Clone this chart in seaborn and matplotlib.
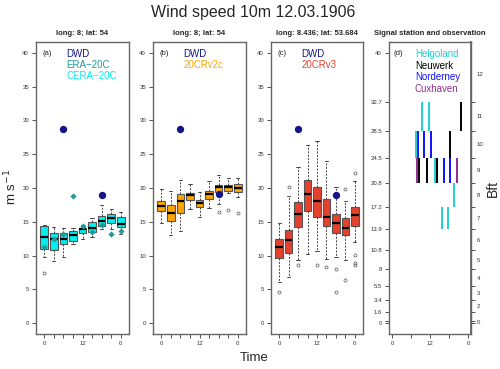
#!/usr/bin/env python3
"""Wind speed 10m 12.03.1906 - reanalysis ensembles vs. DWD and signal stations"""
import matplotlib
matplotlib.use("Agg")
import matplotlib.pyplot as plt
import seaborn as sns
import numpy as np

sns.set_theme(style="ticks")
plt.rcParams['font.family'] = ['Liberation Sans', 'DejaVu Sans']
plt.rcParams['axes.unicode_minus'] = True

# ---- data ----
hours = [0, 3, 6, 9, 12, 15, 18, 21, 24]
dwd_hours = [6, 18]

# panel a: CERA-20C ensemble + ERA-20C + DWD
cera_whislo = [9.8, 9.25, 9.8, 11.7, 12.4, 12.7, 13.9, 13.95, 13.2]
cera_q1 = [11.0, 10.9, 11.7, 12.1, 13.4, 13.5, 14.45, 14.8, 14.25]
cera_med = [12.8, 12.4, 12.4, 13.1, 13.95, 14.15, 15.1, 15.6, 14.65]
cera_q3 = [14.35, 13.3, 13.3, 13.6, 14.15, 15.0, 15.8, 16.2, 15.7]
cera_whishi = [14.5, 14.2, 14.1, 14.05, 14.5, 15.5, 17.5, 16.9, 16.5]
cera_fliers = [[7.4], [], [], [], [], [], [], [], []]
era20c = [11.3, 12.4, 13.2, 18.75, 14.4, 13.5, 14.5, 13.2, 13.65]
dwd_a = [28.8, 19.0]

# panel b: 20CRv2c
v2c_whislo = [14.9, 13.1, 13.65, 16.9, 15.7, 17.0, 17.65, 19.25, 18.65]
v2c_q1 = [16.6, 15.1, 16.3, 18.25, 17.2, 18.45, 19.35, 19.6, 19.45]
v2c_med = [17.4, 16.3, 18.05, 18.95, 17.8, 19.15, 20.1, 20.1, 20.0]
v2c_q3 = [18.05, 17.5, 19.15, 19.25, 18.25, 19.6, 20.4, 20.5, 20.6]
v2c_whishi = [19.8, 19.6, 21.2, 20.6, 19.35, 21.0, 21.9, 21.5, 21.5]
v2c_fliers = [[], [], [], [], [], [], [16.4], [16.7], [16.3]]
dwd_b = [28.8, 19.05]

# panel c: 20CRv3
v3_whislo = [6.1, 6.8, 9.35, 10.25, 10.7, 9.5, 9.85, 9.3, 12.0]
v3_q1 = [9.65, 10.45, 14.25, 16.6, 15.7, 14.45, 13.3, 13.0, 14.35]
v3_med = [11.2, 12.3, 16.1, 19.15, 18.05, 15.7, 14.85, 14.15, 16.0]
v3_q3 = [12.5, 13.85, 18.0, 21.2, 20.2, 18.35, 16.1, 15.6, 17.25]
v3_whishi = [14.85, 18.75, 23.05, 26.3, 26.9, 23.95, 20.2, 18.1, 21.0]
v3_fliers = [[4.6], [20.2], [8.65], [], [8.6], [8.3], [8.0, 4.6],
             [19.8, 6.4], [22.3, 10.1, 8.95, 8.6]]
dwd_c = [28.8, 19.0]

# panel d: Beaufort observations at signal stations
bft_edges = [0, 0.3, 1.6, 3.4, 5.5, 8.0, 10.8, 13.9, 17.2, 20.8, 24.5, 28.5, 32.7, 41.0]
bft_left_ticks = [0, 0.3, 1.6, 3.4, 5.5, 8, 10.8, 13.9, 17.2, 20.8, 24.5, 28.5, 32.7, 40]
bft_left_labels = ['0', '', '1.6', '3.4', '5.5', '8', '10.8', '13.9', '17.2',
                   '20.8', '24.5', '28.5', '32.7', '40']
bft_right_labels = ['0', '', '2', '3', '4', '5', '6', '7', '8', '9', '10', '11', '12']

helgoland_hours = [7.6, 9.6, 11.7, 13.6, 15.7, 17.8, 19.6]
helgoland_bft = [10, 11, 11, 9, 7, 7, 8]
neuwerk_hours = [8.5, 11.0, 14.2, 18.3, 21.8]
neuwerk_bft = [9, 9, 9, 10, 11]
norderney_hours = [8.2, 10.2, 12.3, 16.3, 18.4]
norderney_bft = [10, 10, 10, 9, 9]
cuxhaven_hours = [7.8, 20.4]
cuxhaven_bft = [9, 9]

# ---- colours ----
c_dwd = "#14148a"
c_era = "#1f9a96"
c_cera = "#00f0f0"
c_v2c = "#ffa500"
c_v3 = "#e5412f"
c_helg = "#22d0d0"
c_neu = "#000000"
c_nord = "#1010ff"
c_cux = "#8e2c8e"
frame_col = "#666666"
tick_col = "#333333"

fig = plt.figure(figsize=(5.0, 3.69), dpi=100)
bottom, height = 0.0949, 0.791
ax_a = fig.add_axes([0.072, bottom, 0.186, height])
ax_b = fig.add_axes([0.306, bottom, 0.186, height])
ax_c = fig.add_axes([0.542, bottom, 0.184, height])
ax_d = fig.add_axes([0.778, bottom, 0.164, height])


def style_frame(ax):
    for sp in ax.spines.values():
        sp.set_visible(True)
        sp.set_color(frame_col)
        sp.set_linewidth(1.0)
    ax.tick_params(axis='both', which='major', length=3, width=0.6, color=tick_col,
                   labelsize=4.3, labelcolor=tick_col, pad=2)
    ax.set_xlabel("")
    ax.set_ylabel("")


def draw_boxes(ax, whislo, q1, med, q3, whishi, fliers, face):
    stats = []
    for i in range(len(hours)):
        stats.append(dict(whislo=whislo[i], q1=q1[i], med=med[i], q3=q3[i],
                          whishi=whishi[i], fliers=fliers[i]))
    ax.bxp(stats, positions=hours, widths=2.4, capwidths=1.0, patch_artist=True,
           manage_ticks=False,
           boxprops=dict(facecolor=face, edgecolor="#555555", linewidth=0.8),
           medianprops=dict(color="black", linewidth=1.6),
           whiskerprops=dict(color="#444444", linewidth=0.7, linestyle=(0, (2, 1.5))),
           capprops=dict(color="#444444", linewidth=0.7),
           flierprops=dict(marker='o', markersize=2.2, markerfacecolor='none',
                           markeredgecolor='#555555', markeredgewidth=0.5))


def ens_axes(ax, tag, labels, colors):
    ax.set_xlim(-2.58, 26.58)
    ax.set_ylim(-1.6, 41.6)
    ax.set_yticks(range(0, 41, 5))
    ax.set_xticks(hours)
    ax.set_xticklabels(['0', '', '', '', '12', '', '', '', '0'])
    style_frame(ax)
    ax.text(0.07, 0.96, tag, transform=ax.transAxes, fontsize=5.5, va='center', color='#222222')
    for k, (lab, col) in enumerate(zip(labels, colors)):
        ax.text(0.33, 0.959 - k * 0.037, lab, transform=ax.transAxes, fontsize=7,
                va='center', color=col)


# panel a
draw_boxes(ax_a, cera_whislo, cera_q1, cera_med, cera_q3, cera_whishi, cera_fliers, c_cera)
sns.scatterplot(x=hours, y=era20c, ax=ax_a, color=c_era, marker='D', s=10, linewidth=0, zorder=5)
sns.scatterplot(x=dwd_hours, y=dwd_a, ax=ax_a, color=c_dwd, marker='o', s=28, linewidth=0, zorder=6)
ens_axes(ax_a, "(a)", ["DWD", "ERA\u221220C", "CERA\u221220C"], [c_dwd, c_era, c_cera])
ax_a.set_title("long: 8; lat: 54", fontsize=5.5, fontweight='bold', pad=5)

# panel b
draw_boxes(ax_b, v2c_whislo, v2c_q1, v2c_med, v2c_q3, v2c_whishi, v2c_fliers, c_v2c)
sns.scatterplot(x=dwd_hours, y=dwd_b, ax=ax_b, color=c_dwd, marker='o', s=28, linewidth=0, zorder=6)
ens_axes(ax_b, "(b)", ["DWD", "20CRv2c"], [c_dwd, c_v2c])
ax_b.set_title("long: 8; lat: 54", fontsize=5.5, fontweight='bold', pad=5)

# panel c
draw_boxes(ax_c, v3_whislo, v3_q1, v3_med, v3_q3, v3_whishi, v3_fliers, c_v3)
sns.scatterplot(x=dwd_hours, y=dwd_c, ax=ax_c, color=c_dwd, marker='o', s=28, linewidth=0, zorder=6)
ens_axes(ax_c, "(c)", ["DWD", "20CRv3"], [c_dwd, c_v3])
ax_c.set_title("long: 8.436; lat: 53.684", fontsize=5.5, fontweight='bold', pad=5)

# panel d
stations = [(helgoland_hours, helgoland_bft, c_helg),
            (neuwerk_hours, neuwerk_bft, c_neu),
            (norderney_hours, norderney_bft, c_nord),
            (cuxhaven_hours, cuxhaven_bft, c_cux)]
for st_hours, st_bft, col in stations:
    lo = [bft_edges[b] for b in st_bft]
    hi = [bft_edges[b + 1] for b in st_bft]
    ax_d.vlines(st_hours, lo, hi, colors=col, linewidth=1.4)
ax_d.set_xlim(-0.96, 24.96)
ax_d.set_ylim(-1.6, 41.6)
ax_d.set_xticks([0, 6, 12, 18, 24])
ax_d.set_xticklabels(['0', '', '12', '', '0'])
ax_d.set_yticks(bft_left_ticks)
ax_d.set_yticklabels(bft_left_labels)
style_frame(ax_d)
ax_d.set_title("Signal station and observation", fontsize=5.5, fontweight='bold', pad=5)
ax_d.text(0.055, 0.962, "(d)", transform=ax_d.transAxes, fontsize=5.5, va='center', color='#222222')
for k, (lab, col) in enumerate(zip(["Helgoland", "Neuwerk", "Norderney", "Cuxhaven"],
                                   [c_helg, c_neu, c_nord, c_cux])):
    ax_d.text(0.317, 0.958 - k * 0.0395, lab, transform=ax_d.transAxes, fontsize=7,
              va='center', color=col)

ax_r = ax_d.twinx()
ax_r.set_ylim(-1.6, 41.6)
ax_r.set_yticks(bft_edges[:-1])
ax_r.set_yticklabels([])
mids = [(bft_edges[i] + bft_edges[i + 1]) / 2 for i in range(len(bft_edges) - 1)]
ax_r.set_yticks(mids, minor=True)
ax_r.set_yticklabels(bft_right_labels, minor=True)
for sp in ax_r.spines.values():
    sp.set_visible(False)
ax_r.spines['right'].set_visible(True)
ax_r.spines['right'].set_color(frame_col)
ax_r.tick_params(axis='y', which='major', length=3, width=0.6, color=tick_col)
ax_r.tick_params(axis='y', which='minor', length=0, labelsize=4.3, labelcolor=tick_col, pad=4)
ax_r.set_ylabel("Bft", fontsize=10, labelpad=2)

# figure texts
fig.text(0.506, 0.967, "Wind speed 10m 12.03.1906", fontsize=11.5, ha='center', va='center')
fig.text(0.508, 0.03, "Time", fontsize=9.5, ha='center', va='center')
fig.text(0.022, 0.493, r"m s$^{-1}$", fontsize=9.5, rotation=90, ha='center', va='center')

fig.savefig("out.png", dpi=100)
